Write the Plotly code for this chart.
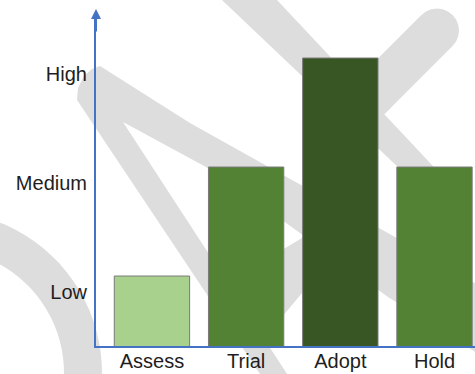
import numpy as np
import plotly.graph_objects as go

# ---- data ----
categories = ["Assess", "Trial", "Adopt", "Hold"]
levels = [1, 2, 3, 2]
level_values = [1, 2, 3]
level_labels = ["Low", "Medium", "High"]
bar_colors = ["#a9d18e", "#548235", "#375623", "#548235"]

# ---- layout geometry (pixels) ----
W, H = 475, 374
L, R, T, B = 96, 0, 14, 28
PW, PH = W - L - R, H - T - B


def P(px, py):
    return ((px - L) / PW, (H - B - py) / PH)


def path(points):
    pts = [P(x, y) for x, y in points]
    return "M " + " L ".join(f"{x:.4f},{y:.4f}" for x, y in pts) + " Z"


WM = "#dddddd"

# watermark pieces (decorative background strokes)
lam = [(264, 380), (77, 100), (78, 88), (84, 76), (92, 69), (100, 66),
       (190, 123), (292, 180), (388, 233), (480, 286), (480, 355),
       (388, 297), (282, 220), (206, 167), (123, 122), (291, 380)]
band1 = [(216.7, -5), (272.3, -5), (470, 205.5), (470, 235.6)]

cx, cy, r = 437, 30.5, 22
arm = [(360.6, 138.1), (329.4, 106.9)]
for th in np.linspace(225, 405, 13):
    arm.append((cx + r * np.cos(np.radians(th)), cy + r * np.sin(np.radians(th))))
slash = [(262, 262), (322, 226), (322, 269), (262, 341)]

rc = (-60, 373)
ang = np.radians(np.linspace(-110, 5, 30))
ring = [(rc[0] + 162 * np.cos(a), rc[1] + 162 * np.sin(a)) for a in ang]
ring += [(rc[0] + 124 * np.cos(a), rc[1] + 124 * np.sin(a)) for a in ang[::-1]]

shapes = []
for poly in (lam, band1, arm, slash, ring):
    shapes.append(dict(type="path", xref="paper", yref="paper", path=path(poly),
                       fillcolor=WM, line=dict(width=0), layer="below"))

fig = go.Figure(go.Bar(
    x=categories, y=levels, width=0.8,
    marker=dict(color=bar_colors, line=dict(color="#7a7a7a", width=1)),
    hoverinfo="skip",
))

font = dict(family="Liberation Sans, Arial, sans-serif", size=20, color="#1e1e1e")
axis_blue = "#4472c4"

fig.update_layout(
    width=W, height=H,
    margin=dict(l=L, r=R, t=T, b=B, pad=0),
    paper_bgcolor="white", plot_bgcolor="white",
    showlegend=False,
    shapes=shapes,
    font=font,
    xaxis=dict(range=[-0.594, 3.43], showline=True, linecolor=axis_blue, linewidth=2,
               ticks="", showgrid=False, zeroline=False, automargin=False,
               tickfont=font, ticklabelstandoff=-4, fixedrange=True),
    yaxis=dict(range=[0.358, 3.404], showline=True, linecolor=axis_blue, linewidth=2,
               ticks="", showgrid=False, zeroline=False, automargin=False,
               tickvals=level_values, ticktext=level_labels, tickfont=font,
               ticklabelshift=16, ticklabelstandoff=3, fixedrange=True),
    annotations=[dict(x=0, y=P(96, 9)[1], xref="paper", yref="paper",
                      ax=0, ay=24, showarrow=True, arrowhead=2, arrowsize=1,
                      arrowwidth=2, arrowcolor=axis_blue, text="")],
)

fig.write_html("out.html")
